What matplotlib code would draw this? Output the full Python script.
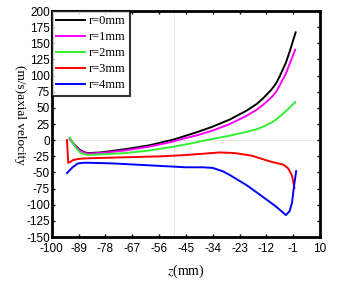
import matplotlib
matplotlib.use("Agg")
import matplotlib.pyplot as plt

plt.rcParams['mathtext.fontset'] = 'stix'

labels = ["r=0mm", "r=1mm", "r=2mm", "r=3mm", "r=4mm"]
colors = ["#000000", "#ff00ff", "#33ee33", "#ff0000", "#0000ff"]

z0 = [-92.6, -90.5, -88.5, -86.5, -85, -80, -70, -60, -50, -47.5, -40, -34, -27, -20, -16, -13.3, -10, -8, -6.4, -4, -2.3, -1, 0]
v0 = [2, -8, -15, -19, -20, -19, -14, -8, 1, 4, 13, 21, 32, 46, 56, 65, 78, 88, 100, 120, 139, 155, 167]

z1 = [-92.6, -90.5, -88.5, -86.5, -85, -80, -70, -60, -50, -47.5, -40, -34, -27, -20, -16, -13.3, -10, -8, -6.4, -4, -2.3, -1, -0.2]
v1 = [2, -9, -16, -20, -21, -20, -16, -10, -2, 1, 8, 15, 25, 38, 47, 55, 66, 75, 86, 103, 120, 132, 140]

z2 = [-92.6, -90.5, -88.5, -86.5, -85, -80, -70, -60, -50, -43, -34, -27, -20, -16, -13.3, -10, -8, -6.4, -4, -2.3, -1, -0.2]
v2 = [4, -10, -19, -22, -23, -22, -20, -16, -10, -5, 2, 7, 13, 17, 21, 27, 32, 37, 45, 51, 56, 59]

z3 = [-93.8, -93.5, -93.3, -92.5, -91.4, -89, -85, -75, -65, -55, -45, -38, -31, -25, -18, -10.5, -5, -3, -1.5, -0.5]
v3 = [0, -20, -35, -34, -31, -29, -28, -27, -26, -25, -23, -21, -19, -20, -24, -33, -38, -44, -55, -74]

z4 = [-93.8, -91.5, -89.3, -87, -85, -75, -65, -55, -45, -38, -34, -30, -27, -20, -13.4, -8, -4, -2.5, -1.5, -0.7, 0.2]
v4 = [-51, -42, -36, -35, -35, -36, -38, -40, -42, -42, -43, -48, -54, -70, -88, -103, -116, -110, -97, -72, -48]

xs = [z0, z1, z2, z3, z4]
ys = [v0, v1, v2, v3, v4]

xticks = [-100, -89, -78, -67, -56, -45, -34, -23, -12, -1, 10]
yticks = list(range(-150, 201, 25))

fig = plt.figure(figsize=(3.6, 2.83), dpi=100)
ax = fig.add_axes([0.144, 0.1625, 0.745, 0.7985])

ax.axhline(0, color='#e6e6e6', lw=0.7, zorder=0)
ax.axvline(-50, color='#e6e6e6', lw=0.7, zorder=0)

for x, y, c, l in zip(xs, ys, colors, labels):
    ax.plot(x, y, color=c, lw=1.4, label=l)

ax.set_xlim(-100, 10)
ax.set_ylim(-150, 200)
ax.set_xticks(xticks)
ax.set_yticks(yticks)
ax.set_xticklabels([str(t) for t in xticks], fontsize=8.5, family='Liberation Sans')
ax.set_yticklabels([str(t) for t in yticks], fontsize=8.5, family='Liberation Sans')
ax.tick_params(direction='in', length=2.5, width=1, top=True, right=True, pad=1.5)
ax.tick_params(axis='x', pad=4.5)
for s in ax.spines.values():
    s.set_linewidth(2)

leg = ax.legend(loc='upper left', bbox_to_anchor=(0, 1), borderaxespad=0,
                prop={'family': 'Liberation Serif', 'size': 9},
                frameon=True, fancybox=False, handlelength=2.3,
                handletextpad=0.3, labelspacing=0.32, borderpad=0.35)
leg.get_frame().set_edgecolor('black')
leg.get_frame().set_linewidth(1.5)

ax.set_xlabel(r'$z$(mm)', fontsize=10, family='Liberation Serif', labelpad=5)
fig.text(0.055, 0.594, '(m/s)axial velocity', rotation=-90, ha='center', va='center',
         fontsize=9.5, family='Liberation Serif')

fig.savefig('out.png', dpi=100)
